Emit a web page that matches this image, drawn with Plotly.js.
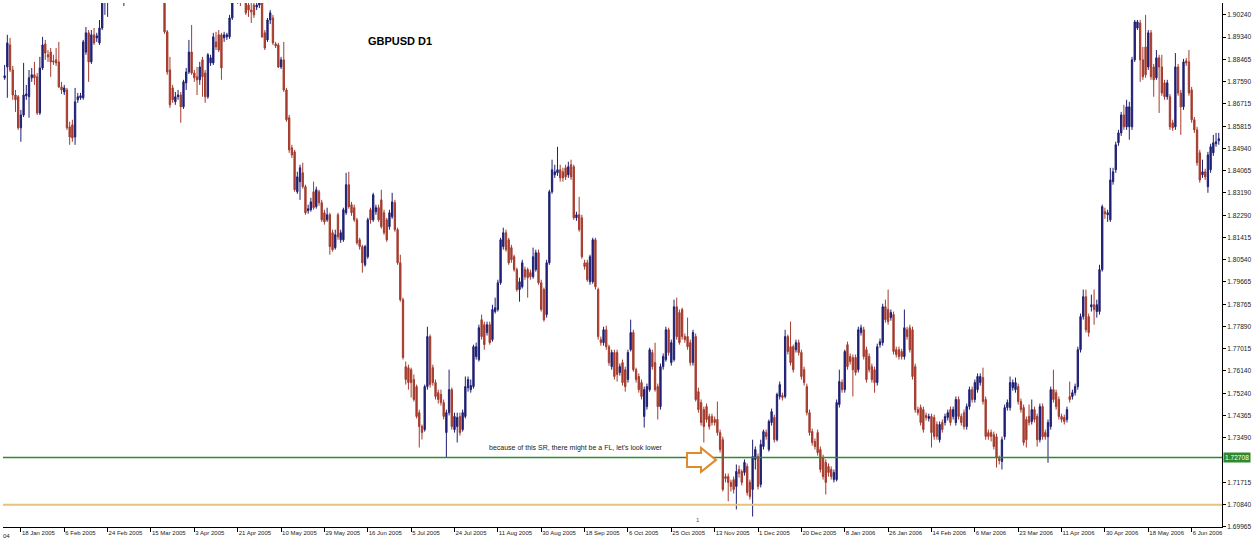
<!DOCTYPE html>
<html>
<head>
<meta charset="utf-8">
<script src="https://cdn.plot.ly/plotly-3.0.1.min.js"></script>
<style>html,body{margin:0;padding:0;background:#fff;}#chart{width:1255px;height:549px;}</style>
</head>
<body>
<div id="chart"></div>
<script>
// GBPUSD D1 daily bars, oldest first
const openP = [
1.8773,1.8816,1.8903,1.8804,1.8705,1.8698,1.8575,1.8626,1.8702,1.8698,
1.8773,1.8785,1.8777,1.8634,1.8812,1.8907,1.8864,1.8875,1.8840,1.8844,
1.8836,1.8737,1.8717,1.8725,1.8579,1.8587,1.8539,1.8686,1.8694,1.8694,
1.8875,1.8951,1.8836,1.8943,1.8931,1.8911,1.8970,1.9081,1.9101,1.9121,
1.9161,1.9201,1.9181,1.9141,1.9101,1.9129,1.9181,1.9221,1.9261,1.9241,
1.9281,1.9249,1.9221,1.9241,1.9201,1.9169,1.9193,1.9153,1.9129,1.9121,
1.8955,1.8804,1.8733,1.8678,1.8698,1.8705,1.8658,1.8753,1.8796,1.8875,
1.8792,1.8777,1.8765,1.8844,1.8792,1.8698,1.8832,1.8832,1.8915,1.8943,
1.8943,1.8931,1.8935,1.8935,1.9010,1.9089,1.9101,1.9093,1.9081,1.9089,
1.9061,1.9041,1.9061,1.9053,1.9061,1.9069,1.8951,1.8923,1.9002,1.9010,
1.8907,1.8903,1.8816,1.8844,1.8725,1.8615,1.8496,1.8480,1.8322,1.8362,
1.8397,1.8342,1.8247,1.8251,1.8322,1.8263,1.8322,1.8279,1.8239,1.8211,
1.8231,1.8160,1.8101,1.8231,1.8132,1.8132,1.8239,1.8350,1.8271,1.8259,
1.8211,1.8132,1.8105,1.8033,1.8065,1.8251,1.8211,1.8243,1.8259,1.8290,
1.8239,1.8211,1.8184,1.8223,1.8279,1.8172,1.8041,1.7895,1.7630,1.7626,
1.7618,1.7579,1.7551,1.7448,1.7393,1.7381,1.7551,1.7749,1.7626,1.7567,
1.7527,1.7520,1.7488,1.7369,1.7448,1.7539,1.7381,1.7393,1.7433,1.7381,
1.7433,1.7547,1.7539,1.7551,1.7670,1.7658,1.7816,1.7796,1.7765,1.7796,
1.7737,1.7848,1.7856,1.7962,1.8105,1.8160,1.8132,1.8101,1.8065,1.8014,1.7935,
1.7946,1.8014,1.8014,1.8002,1.7986,1.8014,1.8081,1.7962,1.7935,1.7836,
1.8041,1.8322,1.8389,1.8397,1.8409,1.8401,1.8417,1.8389,1.8429,1.8421,
1.8219,1.8231,1.8219,
1.8041,1.8041,1.7966,1.7966,1.8132,1.7935,1.7737,1.7725,1.7776,1.7709,
1.7630,1.7686,1.7686,1.7607,1.7646,1.7618,1.7579,1.7697,1.7765,1.7618,
1.7591,1.7567,1.7433,1.7472,1.7539,1.7686,1.7646,1.7551,1.7472,1.7630,1.7658,1.7776,
1.7646,1.7658,1.7867,1.7844,1.7856,1.7749,1.7749,1.7725,1.7646,1.7749,1.7531,1.7488,1.7460,1.7472,
1.7433,1.7433,1.7421,1.7421,1.7369,1.7341,1.7195,1.7195,1.7172,1.7183,
1.7156,1.7223,1.7215,1.7211,1.7235,1.7172,1.7144,1.7263,1.7274,1.7164,
1.7314,1.7369,1.7302,1.7409,1.7429,1.7341,1.7512,1.7516,1.7512,1.7749,
1.7709,1.7709,1.7697,1.7725,1.7686,1.7618,1.7551,1.7448,1.7373,
1.7334,1.7369,1.7302,1.7270,1.7251,1.7235,1.7223,1.7183,1.7183,1.7480,1.7567,1.7539,
1.7717,1.7670,1.7666,1.7666,1.7618,1.7765,1.7776,1.7697,1.7670,1.7630,
1.7618,1.7567,1.7717,1.7725,1.7867,1.7856,1.7824,1.7836,1.7697,1.7697,
1.7690,1.7670,1.7776,1.7784,1.7776,
1.7630,1.7460,1.7468,1.7460,1.7437,1.7425,1.7433,1.7429,1.7401,1.7341,
1.7409,1.7409,1.7429,1.7460,1.7433,1.7409,1.7500,1.7433,1.7448,1.7393,
1.7472,1.7539,1.7500,1.7539,1.7567,1.7587,1.7500,1.7369,1.7369,1.7361,
1.7353,1.7266,1.7255,1.7353,1.7468,1.7468,
1.7547,1.7539,1.7551,1.7492,1.7468,1.7421,1.7433,1.7413,1.7460,1.7433,
1.7341,1.7472,1.7369,1.7353,1.7393,1.7539,1.7527,1.7500,1.7433,1.7429,1.7421,1.7512,
1.7512,1.7527,1.7551,1.7697,1.7828,1.7907,1.7828,1.7867,
1.7875,1.7848,1.7848,1.8014,1.8243,1.8231,1.8211,1.8362,1.8409,1.8516,1.8555,
1.8626,1.8579,1.8579,1.8579,1.8844,1.8970,1.8990,1.8844,1.8895,1.8816,
1.8951,1.8816,1.8773,1.8852,1.8816,1.8753,1.8698,1.8698,
1.8595,1.8579,1.8816,1.8713,1.8658,1.8840,1.8836,1.8725,1.8607,1.8567,1.8476,
1.8389,1.8401,1.8342,1.8409,1.8476,1.8512,1.8524
];
const highP = [
1.8824,1.8943,1.8931,1.8820,1.8725,1.8705,1.8646,1.8832,1.8745,1.8804,
1.8812,1.8836,1.8792,1.8856,1.8935,1.8923,1.8883,1.8891,1.8864,1.8891,
1.8915,1.8757,1.8745,1.8733,1.8599,1.8607,1.8733,1.8713,1.8713,1.8923,
1.8974,1.8962,1.8962,1.8970,1.8951,1.9002,1.9101,1.9141,1.9161,1.9181,
1.9221,1.9241,1.9201,1.9169,1.9161,1.9201,1.9249,1.9289,1.9301,1.9313,
1.9321,1.9273,1.9273,1.9261,1.9233,1.9221,1.9209,1.9181,1.9161,1.9141,
1.8962,1.8856,1.8745,1.8717,1.8725,1.8717,1.8765,1.8812,1.8923,1.8982,
1.8804,1.8816,1.8836,1.8856,1.8804,1.8871,1.8864,1.8951,1.8955,1.8962,
1.8951,1.8955,1.8951,1.9022,1.9113,1.9141,1.9129,1.9121,1.9121,1.9113,
1.9093,1.9089,1.9081,1.9089,1.9101,1.9089,1.8962,1.9010,1.9041,1.9022,
1.8915,1.8911,1.8856,1.8915,1.8733,1.8626,1.8508,1.8488,1.8401,1.8429,
1.8437,1.8350,1.8271,1.8298,1.8362,1.8342,1.8330,1.8290,1.8251,1.8259,
1.8239,1.8172,1.8172,1.8239,1.8172,1.8259,1.8397,1.8401,1.8282,1.8271,
1.8219,1.8140,1.8112,1.8112,1.8219,1.8259,1.8318,1.8271,1.8271,1.8330,
1.8251,1.8219,1.8251,1.8318,1.8290,1.8180,1.8073,1.7903,1.7650,1.7638,
1.7626,1.7599,1.7559,1.7460,1.7401,1.7559,1.7788,1.7757,1.7638,1.7579,
1.7539,1.7539,1.7500,1.7460,1.7618,1.7547,1.7448,1.7448,1.7448,1.7460,
1.7591,1.7591,1.7579,1.7717,1.7725,1.7796,1.7836,1.7808,1.7808,1.7808,
1.7875,1.7903,1.7974,1.8140,1.8180,1.8172,1.8140,1.8112,1.8073,1.8022,1.7982,
1.8053,1.8026,1.8022,1.8014,1.8101,1.8093,1.8093,1.7974,1.7943,1.8053,
1.8330,1.8449,1.8429,1.8500,1.8429,1.8417,1.8429,1.8441,1.8449,1.8429,
1.8243,1.8302,1.8231,
1.8053,1.8053,1.8073,1.8140,1.8140,1.7943,1.7749,1.7788,1.7792,1.7717,
1.7697,1.7697,1.7697,1.7642,1.7658,1.7630,1.7697,1.7816,1.7776,1.7626,
1.7603,1.7579,1.7551,1.7563,1.7705,1.7697,1.7725,1.7563,1.7642,1.7682,1.7788,1.7784,
1.7737,1.7895,1.7903,1.7856,1.7863,1.7761,1.7824,1.7737,1.7776,1.7761,1.7547,1.7500,1.7472,1.7484,
1.7444,1.7444,1.7433,1.7492,1.7381,1.7353,1.7207,1.7207,1.7183,1.7195,
1.7243,1.7239,1.7223,1.7263,1.7247,1.7183,1.7341,1.7314,1.7286,1.7341,
1.7381,1.7381,1.7421,1.7464,1.7440,1.7527,1.7571,1.7527,1.7776,1.7757,
1.7808,1.7717,1.7737,1.7737,1.7697,1.7630,1.7563,1.7460,1.7385,
1.7346,1.7381,1.7314,1.7282,1.7263,1.7247,1.7235,1.7223,1.7500,1.7618,1.7579,1.7697,
1.7729,1.7682,1.7678,1.7678,1.7788,1.7796,1.7788,1.7709,1.7682,1.7642,
1.7630,1.7721,1.7741,1.7879,1.7895,1.7935,1.7856,1.7848,1.7709,1.7709,
1.7701,1.7856,1.7788,1.7796,1.7788,
1.7642,1.7472,1.7480,1.7472,1.7448,1.7444,1.7444,1.7440,1.7413,1.7413,
1.7421,1.7444,1.7460,1.7472,1.7472,1.7512,1.7512,1.7444,1.7460,1.7484,
1.7551,1.7551,1.7579,1.7603,1.7603,1.7626,1.7512,1.7381,1.7381,1.7373,
1.7365,1.7278,1.7353,1.7480,1.7500,1.7591,
1.7579,1.7587,1.7563,1.7504,1.7480,1.7433,1.7480,1.7500,1.7472,1.7444,
1.7484,1.7484,1.7381,1.7421,1.7551,1.7618,1.7539,1.7512,1.7444,1.7440,1.7472,1.7571,
1.7539,1.7563,1.7709,1.7840,1.7935,1.7935,1.7840,1.7915,
1.7935,1.7895,1.8033,1.8271,1.8259,1.8251,1.8417,1.8417,1.8520,1.8567,1.8638,
1.8666,1.8686,1.8678,1.8856,1.9002,1.9002,1.9002,1.8895,1.9022,1.8962,
1.8962,1.8828,1.8883,1.8864,1.8864,1.8765,1.8765,1.8709,
1.8607,1.8871,1.8828,1.8725,1.8848,1.8852,1.8883,1.8737,1.8618,1.8579,1.8488,
1.8449,1.8413,1.8480,1.8512,1.8547,1.8555,1.8555
];
const lowP = [
1.8765,1.8694,1.8796,1.8686,1.8638,1.8567,1.8520,1.8618,1.8686,1.8615,
1.8757,1.8745,1.8626,1.8626,1.8804,1.8844,1.8836,1.8777,1.8824,1.8820,
1.8733,1.8709,1.8705,1.8567,1.8508,1.8520,1.8508,1.8674,1.8686,1.8686,
1.8864,1.8757,1.8828,1.8903,1.8915,1.8903,1.8962,1.9022,1.9014,1.9101,
1.9141,1.9153,1.9113,1.9081,1.9057,1.9113,1.9161,1.9201,1.9209,1.9221,
1.9233,1.9193,1.9201,1.9181,1.9153,1.9141,1.9129,1.9101,1.9089,1.8947,
1.8785,1.8654,1.8674,1.8666,1.8686,1.8595,1.8650,1.8725,1.8788,1.8785,
1.8757,1.8705,1.8745,1.8698,1.8674,1.8690,1.8820,1.8824,1.8883,1.8875,
1.8765,1.8915,1.8923,1.8927,1.9002,1.9069,1.9065,1.9057,1.9069,1.9022,
1.9014,1.8990,1.9010,1.9041,1.9049,1.8931,1.8883,1.8915,1.8986,1.8903,
1.8891,1.8812,1.8808,1.8717,1.8599,1.8476,1.8456,1.8322,1.8314,1.8290,
1.8334,1.8231,1.8235,1.8243,1.8251,1.8255,1.8267,1.8203,1.8192,1.8203,
1.8073,1.8085,1.8093,1.8132,1.8120,1.8124,1.8231,1.8255,1.8227,1.8203,
1.8112,1.8093,1.8002,1.8026,1.8057,1.8196,1.8203,1.8231,1.8203,1.8176,
1.8152,1.8124,1.8172,1.8215,1.8164,1.8033,1.7887,1.7658,1.7559,1.7539,
1.7508,1.7492,1.7425,1.7310,1.7342,1.7373,1.7539,1.7547,1.7555,1.7500,
1.7484,1.7476,1.7421,1.7270,1.7437,1.7381,1.7369,1.7330,1.7357,1.7373,
1.7425,1.7531,1.7527,1.7543,1.7658,1.7650,1.7737,1.7697,1.7753,1.7717,
1.7729,1.7840,1.7848,1.7954,1.8093,1.8085,1.8033,1.8041,1.8006,1.7927,1.7887,
1.7939,1.7974,1.7903,1.7974,1.7978,1.8006,1.7954,1.7848,1.7808,1.7824,
1.8033,1.8314,1.8377,1.8385,1.8362,1.8362,1.8369,1.8377,1.8369,1.8211,
1.8207,1.8164,1.8057,
1.8014,1.7966,1.7954,1.7958,1.7935,1.7737,1.7713,1.7713,1.7697,1.7634,
1.7618,1.7579,1.7571,1.7595,1.7555,1.7531,1.7567,1.7690,1.7610,1.7567,
1.7527,1.7500,1.7389,1.7460,1.7531,1.7618,1.7531,1.7421,1.7460,1.7618,1.7650,1.7674,
1.7634,1.7650,1.7737,1.7717,1.7737,1.7725,1.7697,1.7634,1.7634,1.7492,1.7448,1.7397,1.7330,1.7409,
1.7381,1.7397,1.7397,1.7357,1.7290,1.7136,1.7172,1.7097,1.7136,1.7128,
1.7065,1.7191,1.7160,1.7199,1.7120,1.7104,1.7037,1.7223,1.7144,1.7152,
1.7302,1.7341,1.7294,1.7397,1.7330,1.7334,1.7500,1.7496,1.7504,1.7678,
1.7634,1.7607,1.7686,1.7674,1.7579,1.7555,1.7437,1.7357,1.7318,
1.7302,1.7278,1.7211,1.7183,1.7124,1.7195,1.7183,1.7172,1.7176,1.7468,1.7527,1.7527,
1.7618,1.7638,1.7512,1.7595,1.7607,1.7753,1.7658,1.7567,1.7607,1.7567,
1.7527,1.7555,1.7705,1.7713,1.7804,1.7796,1.7812,1.7678,1.7666,1.7658,
1.7658,1.7658,1.7737,1.7686,1.7579,
1.7448,1.7437,1.7397,1.7369,1.7417,1.7413,1.7310,1.7341,1.7341,1.7330,
1.7369,1.7397,1.7417,1.7397,1.7421,1.7397,1.7421,1.7397,1.7381,1.7381,
1.7460,1.7488,1.7488,1.7527,1.7555,1.7480,1.7341,1.7341,1.7334,1.7302,
1.7231,1.7243,1.7223,1.7341,1.7456,1.7456,
1.7535,1.7527,1.7480,1.7448,1.7318,1.7310,1.7397,1.7401,1.7409,1.7314,
1.7330,1.7341,1.7341,1.7250,1.7381,1.7488,1.7460,1.7421,1.7409,1.7401,1.7409,1.7488,
1.7500,1.7516,1.7539,1.7686,1.7816,1.7765,1.7749,1.7848,
1.7796,1.7824,1.7836,1.8006,1.8215,1.8203,1.8203,1.8350,1.8397,1.8504,1.8543,
1.8567,1.8567,1.8528,1.8567,1.8836,1.8962,1.8757,1.8765,1.8773,1.8804,
1.8765,1.8698,1.8765,1.8634,1.8702,1.8686,1.8686,1.8567,
1.8563,1.8567,1.8702,1.8547,1.8646,1.8820,1.8702,1.8595,1.8555,1.8425,1.8358,
1.8377,1.8369,1.8318,1.8397,1.8464,1.8500,1.8508
];
const closeP = [
1.8781,1.8911,1.8804,1.8705,1.8686,1.8575,1.8626,1.8705,1.8709,1.8773,
1.8785,1.8773,1.8634,1.8812,1.8903,1.8871,1.8856,1.8836,1.8836,1.8832,
1.8737,1.8725,1.8733,1.8575,1.8539,1.8535,1.8678,1.8698,1.8702,1.8915,
1.8951,1.8836,1.8943,1.8911,1.8939,1.8970,1.9073,1.9101,1.9121,1.9161,
1.9201,1.9181,1.9141,1.9101,1.9129,1.9181,1.9221,1.9261,1.9241,1.9281,
1.9249,1.9221,1.9241,1.9201,1.9169,1.9193,1.9153,1.9129,1.9121,1.8955,
1.8796,1.8666,1.8686,1.8698,1.8705,1.8658,1.8757,1.8796,1.8875,1.8792,
1.8773,1.8765,1.8816,1.8777,1.8698,1.8864,1.8852,1.8935,1.8895,1.8883,
1.8812,1.8943,1.8943,1.9010,1.9089,1.9101,1.9093,1.9073,1.9089,1.9030,
1.9041,1.9034,1.9022,1.9061,1.9069,1.8935,1.8891,1.9002,1.9030,1.8911,
1.8899,1.8816,1.8844,1.8725,1.8607,1.8488,1.8468,1.8330,1.8381,1.8417,
1.8342,1.8239,1.8255,1.8282,1.8259,1.8330,1.8279,1.8211,1.8203,1.8231,
1.8105,1.8093,1.8152,1.8144,1.8160,1.8251,1.8350,1.8263,1.8239,1.8211,
1.8120,1.8105,1.8041,1.8105,1.8211,1.8211,1.8310,1.8259,1.8211,1.8184,
1.8160,1.8132,1.8239,1.8282,1.8172,1.8041,1.7895,1.7666,1.7579,1.7567,
1.7567,1.7500,1.7433,1.7393,1.7369,1.7551,1.7749,1.7559,1.7567,1.7512,
1.7500,1.7488,1.7433,1.7448,1.7539,1.7393,1.7433,1.7429,1.7369,1.7448,
1.7551,1.7579,1.7555,1.7709,1.7709,1.7784,1.7749,1.7717,1.7796,1.7725,
1.7856,1.7863,1.7962,1.8132,1.8160,1.8093,1.8041,1.8053,1.8014,1.7935,1.7966,
1.8041,1.7986,1.7982,1.7986,1.8065,1.8081,1.7962,1.7856,1.7816,1.8041,
1.8322,1.8409,1.8401,1.8409,1.8377,1.8377,1.8381,1.8421,1.8381,1.8219,
1.8231,1.8172,1.8065,
1.8026,1.7974,1.8065,1.8132,1.7946,1.7749,1.7725,1.7776,1.7709,1.7646,
1.7686,1.7591,1.7599,1.7630,1.7567,1.7551,1.7686,1.7765,1.7618,1.7579,
1.7539,1.7512,1.7539,1.7551,1.7697,1.7630,1.7539,1.7472,1.7630,1.7670,1.7776,1.7686,
1.7725,1.7867,1.7749,1.7725,1.7749,1.7737,1.7709,1.7646,1.7765,1.7500,1.7460,1.7409,1.7393,1.7421,
1.7393,1.7409,1.7409,1.7369,1.7302,1.7144,1.7187,1.7172,1.7156,1.7144,
1.7215,1.7207,1.7172,1.7251,1.7132,1.7116,1.7274,1.7302,1.7156,1.7322,
1.7373,1.7354,1.7413,1.7452,1.7341,1.7520,1.7559,1.7508,1.7749,1.7690,
1.7646,1.7618,1.7725,1.7686,1.7591,1.7567,1.7448,1.7369,1.7330,
1.7314,1.7290,1.7223,1.7195,1.7172,1.7211,1.7195,1.7211,1.7488,1.7571,1.7539,1.7690,
1.7630,1.7650,1.7618,1.7607,1.7776,1.7784,1.7670,1.7579,1.7618,1.7579,
1.7567,1.7709,1.7729,1.7867,1.7816,1.7808,1.7844,1.7690,1.7678,1.7670,
1.7670,1.7784,1.7749,1.7697,1.7591,
1.7460,1.7448,1.7409,1.7381,1.7429,1.7433,1.7369,1.7354,1.7354,1.7401,
1.7381,1.7433,1.7448,1.7409,1.7460,1.7500,1.7433,1.7409,1.7393,1.7472,
1.7539,1.7500,1.7567,1.7591,1.7591,1.7492,1.7354,1.7354,1.7354,1.7314,
1.7270,1.7258,1.7341,1.7468,1.7488,1.7567,
1.7567,1.7567,1.7492,1.7460,1.7330,1.7341,1.7409,1.7460,1.7421,1.7341,
1.7472,1.7353,1.7353,1.7409,1.7539,1.7500,1.7472,1.7433,1.7421,1.7413,1.7460,1.7500,
1.7527,1.7551,1.7697,1.7828,1.7907,1.7776,1.7765,1.7875,
1.7856,1.7875,1.8014,1.8263,1.8235,1.8239,1.8369,1.8401,1.8508,1.8555,1.8626,
1.8579,1.8658,1.8658,1.8844,1.8994,1.8994,1.8844,1.8777,1.8785,1.8951,
1.8777,1.8765,1.8852,1.8816,1.8713,1.8698,1.8753,1.8579,
1.8575,1.8816,1.8713,1.8658,1.8836,1.8832,1.8713,1.8607,1.8567,1.8437,1.8369,
1.8401,1.8381,1.8468,1.8500,1.8516,1.8520,1.8532
];

// Date labels and the bar each one marks
const dateLabels = ["18 Jan 2005","6 Feb 2005","24 Feb 2005","15 Mar 2005","3 Apr 2005","21 Apr 2005",
  "10 May 2005","29 May 2005","16 Jun 2005","5 Jul 2005","24 Jul 2005","11 Aug 2005","30 Aug 2005",
  "18 Sep 2005","6 Oct 2005","25 Oct 2005","13 Nov 2005","1 Dec 2005","20 Dec 2005","8 Jan 2006",
  "26 Jan 2006","14 Feb 2006","6 Mar 2006","23 Mar 2006","11 Apr 2006","30 Apr 2006","18 May 2006","6 Jun 2006"];
const dateBars = [6,22,38,54,70,86,102,118,134,150,166,182,198,214,230,246,262,278,294,310,326,342,358,374,390,406,422,438];
const edgeDateFragment = "04";

// Price axis labels
const priceTicks = [1.90240,1.89340,1.88465,1.87590,1.86715,1.85815,1.84940,1.84065,1.83190,1.82290,
  1.81415,1.80540,1.79665,1.78765,1.77890,1.77015,1.76140,1.75240,1.74365,1.73490,1.71715,1.70840,1.69965];

// Horizontal levels and notes
const srLevel = 1.72708;
const lowerLevel = 1.70840;
const noteText = "because of this SR, there might be a FL, let's look lower";
const noteBar = 178, notePrice = 1.7308;
const arrowBar = 262.5, arrowPrice = 1.7261;

const n = Math.min(openP.length, highP.length, lowP.length, closeP.length);
const xs = [];
for (let i = 0; i < n; i++) xs.push(i);

const FONT = "Liberation Sans, Arial, sans-serif";

const trace = {
  type: 'candlestick',
  x: xs,
  open: openP.slice(0, n), high: highP.slice(0, n), low: lowP.slice(0, n), close: closeP.slice(0, n),
  increasing: {line: {color: '#1f1f74', width: 1}, fillcolor: '#1f1f74'},
  decreasing: {line: {color: '#a53b2d', width: 1}, fillcolor: '#a53b2d'},
  whiskerwidth: 0,
  hoverinfo: 'skip',
  showlegend: false
};

const layout = {
  width: 1255, height: 549,
  margin: {l: 3, r: 33, t: 3, b: 22, pad: 0},
  paper_bgcolor: '#ffffff', plot_bgcolor: '#ffffff',
  showlegend: false,
  title: {text: '<b>GBPUSD D1</b>', x: 0.3257, y: 0.9275, xref: 'paper', yref: 'paper',
          xanchor: 'center', yanchor: 'middle', font: {family: FONT, size: 11, color: '#000'}},
  xaxis: {
    range: [-0.6, n + 0.2], showgrid: false, zeroline: false,
    showline: true, linecolor: '#000', linewidth: 1,
    ticks: 'outside', ticklen: 4, tickcolor: '#000', tickwidth: 1,
    tickmode: 'array', tickvals: dateBars, ticktext: dateLabels,
    tickangle: 0,
    ticklabelposition: 'outside right',
    tickfont: {family: FONT, size: 6, color: '#222'},
    rangeslider: {visible: false}, fixedrange: true
  },
  yaxis: {
    side: 'right', range: [1.69955, 1.90690], showgrid: false, zeroline: false,
    showline: true, linecolor: '#000', linewidth: 1,
    ticks: 'outside', ticklen: 3, tickcolor: '#000', tickwidth: 1,
    tickmode: 'array', tickvals: priceTicks, tickformat: '.5f',
    tickfont: {family: FONT, size: 6.6, color: '#222'},
    fixedrange: true
  },
  shapes: [
    {type: 'line', xref: 'paper', x0: 0, x1: 1, yref: 'y', y0: srLevel, y1: srLevel,
     line: {color: '#2f8a2f', width: 1.5}},
    {type: 'line', xref: 'paper', x0: 0, x1: 1, yref: 'y', y0: lowerLevel, y1: lowerLevel,
     line: {color: '#e6c27a', width: 2}},
    {type: 'path', xref: 'x', yref: 'y', xsizemode: 'pixel', ysizemode: 'pixel',
     xanchor: arrowBar, yanchor: arrowPrice,
     path: 'M-29,7 L-15,7 L-15,12 L0,0 L-15,-12 L-15,-7 L-29,-7 Z',
     line: {color: '#e08a2c', width: 2}, fillcolor: '#ffffff'}
  ],
  annotations: [
    {xref: 'x', yref: 'y', x: noteBar, y: notePrice, text: noteText, showarrow: false,
     xanchor: 'left', yanchor: 'middle', font: {family: FONT, size: 7, color: '#222'}},
    {xref: 'paper', yref: 'y', x: 1, y: srLevel, text: srLevel.toFixed(5), showarrow: false,
     xanchor: 'left', yanchor: 'middle', xshift: 1, bgcolor: '#2f8a2f', borderpad: 1,
     font: {family: FONT, size: 6.6, color: '#ffffff'}},
    {xref: 'x', yref: 'y', x: 256, y: 1.7023, text: '1', showarrow: false,
     font: {family: FONT, size: 6, color: '#555'}},
    {xref: 'paper', yref: 'paper', x: -0.0015, y: -0.018, text: edgeDateFragment, showarrow: false,
     xanchor: 'left', yanchor: 'middle', font: {family: FONT, size: 6, color: '#222'}}
  ]
};

Plotly.newPlot('chart', [trace], layout, {displayModeBar: false, staticPlot: true});
</script>
</body>
</html>
